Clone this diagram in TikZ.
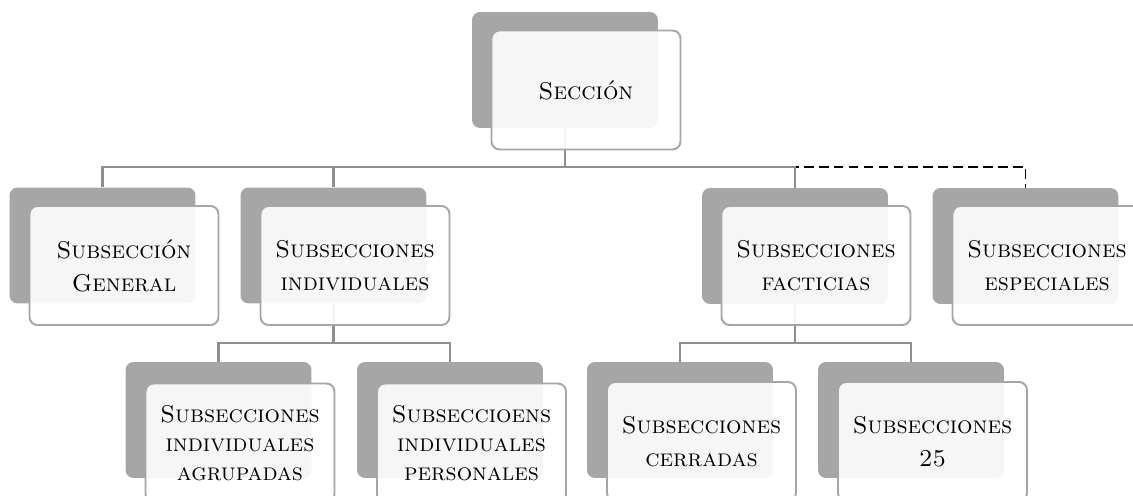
\documentclass[tikz,border=0pt]{standalone}
\usepackage{fontspec}
\definecolor{boxgray}{HTML}{A6A6A6}
\definecolor{linegray}{HTML}{8F8F8F}

\begin{document}
\begin{tikzpicture}[x=0.02cm,y=-0.02cm,
      back/.style={fill=boxgray,rounded corners=0.16cm,minimum width=3.72cm,minimum height=2.32cm,inner sep=0pt},
      front/.style={draw=boxgray,line width=1.1pt,fill=white,fill opacity=0.9,text opacity=1,rounded corners=0.16cm,
                    minimum width=3.78cm,minimum height=2.38cm,inner sep=0pt,align=center,
                    font=\fontsize{13.8}{18.7}\selectfont\scshape\addfontfeature{FakeBold=0.6}},
      tight/.style={font=\fontsize{13.8}{16.5}\selectfont\scshape\addfontfeature{FakeBold=0.6}},
      link/.style={draw=linegray,line width=1.2pt},
      extra/.style={draw=black,line width=1pt,dash pattern=on 5.5pt off 3pt}]
   \useasboundingbox (0,0) rectangle (1133,496);
   \node[back] (secb) at (565,70) {};
   \node[back] (genb) at (102.5,245.5) {};
   \node[back] (indb) at (333.5,245.5) {};
   \node[back] (facb) at (795,246) {};
   \node[back] (espb) at (1025.5,246) {};
   \node[back] (agrb) at (218.5,420) {};
   \node[back] (perb) at (450,420) {};
   \node[back] (cerb) at (680,420) {};
   \node[back] (veib) at (911,420) {};

   \coordinate (bus) at (565,167);
   \coordinate (indbus) at (333.5,343);
   \coordinate (facbus) at (795,343);
   \draw[extra] (bus) -| (espb.north);
   \draw[link] (secb.south) -- (bus) -| (genb.north);
   \draw[link] (bus) -| (indb.north);
   \draw[link] (bus) -| (facb.north);
   \draw[link] (indb.south) -- (indbus) -| (agrb.north);
   \draw[link] (indbus) -| (perb.north);
   \draw[link] (facb.south) -- (facbus) -| (cerb.north);
   \draw[link] (facbus) -| (veib.north);

   \node[front] (sec) at (586,90) {Sección};
   \node[front] (gen) at (124,265.5) {Subsección\\General};
   \node[front] (ind) at (355,265.5) {Subsecciones\\individuales};
   \node[front] (fac) at (816,265.5) {Subsecciones\\facticias};
   \node[front] (esp) at (1047,265.5) {Subsecciones\\especiales};
   \node[front,tight] (agr) at (240,443) {Subsecciones\\individuales\\agrupadas};
   \node[front,tight] (per) at (471.5,443) {Subseccioens\\individuales\\personales};
   \node[front] (cer) at (701.5,441.5) {Subsecciones\\cerradas};
   \node[front] (vei) at (932.5,441.5) {Subsecciones\\25};
\end{tikzpicture}
\end{document}
